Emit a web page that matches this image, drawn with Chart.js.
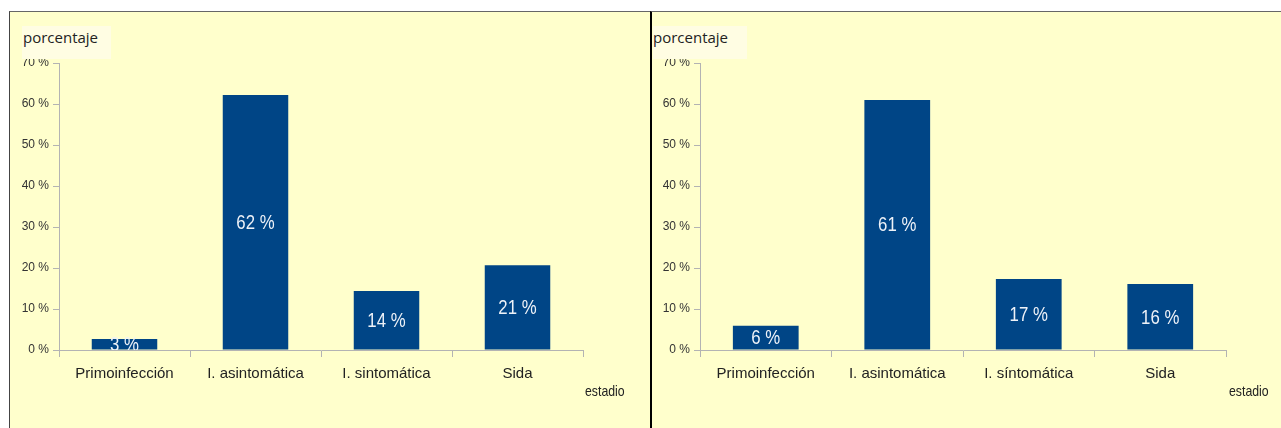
<!DOCTYPE html>
<html>
<head>
<meta charset="utf-8">
<script src="https://cdn.jsdelivr.net/npm/chart.js@4"></script>
<style>
body { margin: 0; background: #fff; width: 1281px; height: 428px; overflow: hidden; position: relative; }
.panel { position: absolute; top: 11px; height: 417px; background: #ffffcc; border-top: 1px solid #666; box-sizing: border-box; }
#p1 { left: 9px; width: 641px; border-left: 1px solid #444; }
#p2 { left: 650px; width: 631px; border-left: 2px solid #000; }
.panel canvas { position: absolute; left: 0; top: 0; }
.ytitle { position: absolute; top: 14px; height: 33px; background: #fffde3; font-family: "Open Sans", sans-serif; font-size: 15px; color: #222; line-height: 22px; }
.xtitle { position: absolute; top: 370px; font-family: "Liberation Sans", sans-serif; font-size: 15px; color: #222; transform: scaleX(0.82); transform-origin: left top; }
</style>
</head>
<body>
<div class="panel" id="p1">
  <canvas id="c1" width="640" height="416"></canvas>
  <div class="ytitle" style="left:12px;width:88px;padding-left:1px;">porcentaje</div>
  <div class="xtitle" style="left:575px;">estadio</div>
</div>
<div class="panel" id="p2">
  <canvas id="c2" width="629" height="416"></canvas>
  <div class="ytitle" style="left:1px;width:94px;">porcentaje</div>
  <div class="xtitle" style="left:577px;">estadio</div>
</div>
<script>
const categorias1 = ['Primoinfección', 'I. asintomática', 'I. sintomática', 'Sida'];
const categorias2 = ['Primoinfección', 'I. asintomática', 'I. síntomática', 'Sida'];
const valores1 = [2.7, 62.2, 14.4, 20.7];
const valores2 = [5.9, 61.0, 17.3, 16.1];
const ticksY = [0, 10, 20, 30, 40, 50, 60, 70];

const barColor = '#004586';
const axisColor = '#b3b3b3';
const fontFam = '"Liberation Sans", Arial, sans-serif';

// etiquetas dentro de las barras
const barLabels = {
    id: 'barLabels',
    afterDatasetsDraw(chart) {
        const ctx = chart.ctx;
        const area = chart.chartArea;
        ctx.save();
        ctx.beginPath();
        ctx.rect(area.left, area.top, area.right - area.left, area.bottom - area.top);
        ctx.clip();
        ctx.font = '21px ' + fontFam;
        ctx.fillStyle = '#eef2f8';
        ctx.textAlign = 'center';
        ctx.textBaseline = 'middle';
        chart.getDatasetMeta(0).data.forEach(function(bar, i) {
            const v = chart.data.datasets[0].data[i];
            const y = (bar.y + bar.base) / 2;
            // texto estrecho como en el original
            ctx.save();
            ctx.translate(bar.x, y + 1);
            ctx.scale(0.8, 1);
            ctx.fillText(Math.round(v) + ' %', 0, 0);
            ctx.restore();
        });
        ctx.restore();
    }
};

function makeChart(id, labels, values, yWidth, rightPad) {
    const ctx = document.getElementById(id).getContext('2d');
    return new Chart(ctx, {
        type: 'bar',
        data: {
            labels: labels,
            datasets: [{
                data: values,
                backgroundColor: barColor,
                barPercentage: 0.5,
                categoryPercentage: 1.0
            }]
        },
        options: {
            responsive: false,
            animation: false,
            events: [],
            layout: { padding: { top: 51, right: rightPad, left: 0, bottom: 0 } },
            plugins: { legend: { display: false }, tooltip: { enabled: false } },
            scales: {
                x: {
                    afterFit: function(s) { s.height = 78; },
                    border: { display: true, color: axisColor, width: 1 },
                    grid: { display: true, drawOnChartArea: false, drawTicks: true, tickLength: 7, color: axisColor, offset: true },
                    ticks: {
                        color: '#222',
                        padding: 8,
                        maxRotation: 0,
                        font: { family: fontFam, size: 15 }
                    }
                },
                y: {
                    min: 0,
                    max: 70,
                    afterFit: function(s) { s.width = yWidth; },
                    afterBuildTicks: function(s) { s.ticks = ticksY.map(v => ({ value: v })); },
                    border: { display: true, color: axisColor, width: 1 },
                    grid: { display: true, drawOnChartArea: false, drawTicks: true, tickLength: 6, color: axisColor },
                    ticks: {
                        color: '#333',
                        padding: 4,
                        font: { family: fontFam, size: 12 },
                        callback: function(v) { return v + ' %'; }
                    }
                }
            }
        },
        plugins: [barLabels]
    });
}

makeChart('c1', categorias1, valores1, 49, 67);
makeChart('c2', categorias2, valores2, 48, 55);
</script>
</body>
</html>
